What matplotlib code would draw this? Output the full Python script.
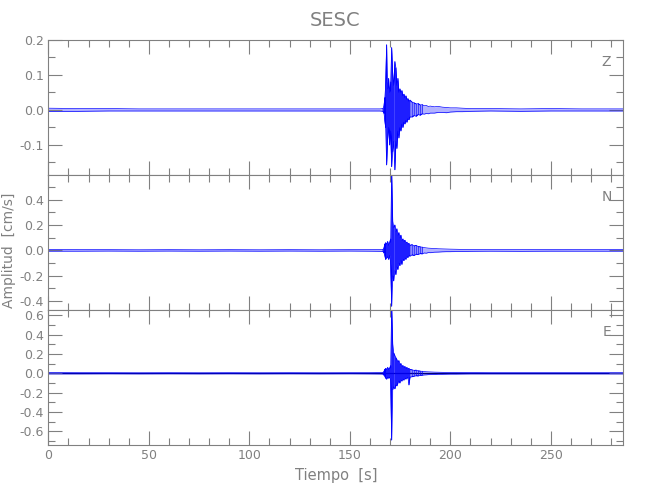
import matplotlib
matplotlib.use('Agg')
import matplotlib.pyplot as plt
from matplotlib.ticker import MultipleLocator, FormatStrFormatter
import numpy as np

t_samples = [0, 15, 30, 45, 60, 75, 90, 105, 120, 135, 150, 160, 165, 166.5,
             167.0, 167.4, 167.8, 168.3, 168.8, 169.3, 169.8, 170.3, 170.8, 171.3,
             171.8, 172.4, 172.9, 173.4, 173.9, 174.4, 174.9, 175.4, 175.9, 176.4,
             176.9, 177.4, 177.9, 178.4, 178.9, 179.4, 179.9,
             181, 182, 183, 184, 185, 186, 187, 188, 189, 190, 192, 194, 196, 198,
             200, 203, 206, 210,
             220, 235, 250, 265, 286]

# Z component, upper / lower extremes [cm/s]
z_hi = [0.005, 0.004, 0.004, 0.003, 0.003, 0.003, 0.003, 0.003, 0.003, 0.003, 0.003, 0.003, 0.003, 0.004,
        0.012, 0.035, 0.07, 0.186, 0.06, 0.09, 0.05, 0.08, 0.178, 0.10,
        0.07, 0.138, 0.12, 0.07, 0.09, 0.05, 0.06, 0.05, 0.055, 0.04,
        0.045, 0.035, 0.04, 0.03, 0.032, 0.025, 0.028,
        0.022, 0.02, 0.017, 0.018, 0.014, 0.015, 0.012, 0.013, 0.01, 0.011, 0.009, 0.01, 0.008, 0.007,
        0.006, 0.006, 0.005, 0.004,
        0.004, 0.003, 0.004, 0.003, 0.003]
z_lo = [-0.004, -0.004, -0.003, -0.003, -0.003, -0.003, -0.003, -0.003, -0.003, -0.003, -0.003, -0.003, -0.003, -0.004,
        -0.010, -0.03, -0.05, -0.157, -0.08, -0.05, -0.10, -0.06, -0.162, -0.12,
        -0.09, -0.171, -0.09, -0.11, -0.06, -0.08, -0.05, -0.06, -0.04, -0.05,
        -0.035, -0.04, -0.03, -0.035, -0.025, -0.028, -0.02,
        -0.02, -0.016, -0.018, -0.013, -0.015, -0.011, -0.012, -0.01, -0.011, -0.009, -0.009, -0.007, -0.007, -0.008,
        -0.006, -0.005, -0.005, -0.004,
        -0.003, -0.004, -0.003, -0.003, -0.003]

# N component
n_hi = [0.007, 0.006, 0.006, 0.005, 0.006, 0.005, 0.006, 0.005, 0.006, 0.005, 0.006, 0.006, 0.007, 0.008,
        0.02, 0.05, 0.06, 0.05, 0.07, 0.04, 0.06, 0.09, 0.62, 0.23,
        0.18, 0.20, 0.15, 0.17, 0.12, 0.14, 0.10, 0.12, 0.08, 0.09,
        0.07, 0.08, 0.06, 0.065, 0.05, 0.055, 0.04,
        0.045, 0.035, 0.04, 0.03, 0.028, 0.025, 0.022, 0.02, 0.018, 0.017, 0.015, 0.013, 0.012, 0.011,
        0.01, 0.009, 0.008, 0.007,
        0.006, 0.006, 0.007, 0.006, 0.006]
n_lo = [-0.006, -0.006, -0.005, -0.006, -0.005, -0.006, -0.005, -0.006, -0.005, -0.006, -0.005, -0.006, -0.007, -0.008,
        -0.02, -0.04, -0.07, -0.06, -0.05, -0.07, -0.04, -0.10, -0.44, -0.20,
        -0.24, -0.16, -0.19, -0.13, -0.15, -0.10, -0.12, -0.08, -0.11, -0.07,
        -0.08, -0.06, -0.07, -0.05, -0.055, -0.04, -0.045,
        -0.035, -0.04, -0.03, -0.032, -0.025, -0.027, -0.02, -0.022, -0.017, -0.018, -0.014, -0.013, -0.011, -0.01,
        -0.01, -0.008, -0.008, -0.007,
        -0.006, -0.007, -0.006, -0.006, -0.006]

# E component
e_hi = [0.007, 0.006, 0.006, 0.005, 0.006, 0.005, 0.006, 0.005, 0.006, 0.005, 0.006, 0.006, 0.007, 0.008,
        0.02, 0.04, 0.05, 0.04, 0.06, 0.04, 0.05, 0.08, 0.70, 0.30,
        0.21, 0.18, 0.16, 0.14, 0.12, 0.13, 0.09, 0.10, 0.07, 0.08,
        0.06, 0.07, 0.05, 0.06, 0.045, 0.05, 0.04,
        0.035, 0.03, 0.032, 0.025, 0.022, 0.02, 0.018, 0.016, 0.015, 0.014, 0.012, 0.011, 0.01, 0.009,
        0.009, 0.008, 0.007, 0.007,
        0.006, 0.006, 0.006, 0.006, 0.006]
e_lo = [-0.006, -0.006, -0.005, -0.006, -0.005, -0.006, -0.005, -0.006, -0.005, -0.006, -0.005, -0.006, -0.007, -0.008,
        -0.02, -0.03, -0.05, -0.06, -0.04, -0.05, -0.04, -0.07, -0.69, -0.17,
        -0.14, -0.16, -0.12, -0.13, -0.10, -0.08, -0.10, -0.07, -0.08, -0.06,
        -0.07, -0.05, -0.06, -0.045, -0.05, -0.12, -0.04,
        -0.035, -0.03, -0.025, -0.027, -0.02, -0.02, -0.017, -0.016, -0.014, -0.013, -0.012, -0.01, -0.01, -0.009,
        -0.008, -0.008, -0.007, -0.006,
        -0.006, -0.006, -0.006, -0.006, -0.006]

components = ['Z', 'N', 'E']
y_limits = [(-0.186, 0.2), (-0.47, 0.595), (-0.742, 0.655)]
y_major = [0.1, 0.2, 0.2]
y_minor = [0.05, 0.1, 0.1]

plt.rcParams['font.family'] = ['Liberation Sans Narrow', 'DejaVu Sans']
gray = '#808080'
blue = '#0000ff'


def trace_xy(t, hi, lo):
    # vertical stroke between the read extremes at each finely sampled time,
    # direction alternating so the strokes join along the envelope
    t = np.asarray(t, float)
    hi = np.asarray(hi, float)
    lo = np.asarray(lo, float)
    keep = (t >= 166.5) & (t <= 186)
    t, hi, lo = t[keep], hi[keep], lo[keep]
    x = np.repeat(t, 2)
    y = np.empty(len(x))
    even = np.arange(len(t)) % 2 == 0
    y[0::2] = np.where(even, hi, lo)
    y[1::2] = np.where(even, lo, hi)
    return x, y


def main():
    fig = plt.figure(figsize=(6.5, 5), dpi=100)
    left, width = 0.0743, 0.8846
    bottoms = [0.65, 0.38, 0.11]
    series = [(z_hi, z_lo), (n_hi, n_lo), (e_hi, e_lo)]

    for i, comp in enumerate(components):
        ax = fig.add_axes([left, bottoms[i], width, 0.27])
        hi, lo = series[i]
        if comp == 'E':
            ax.axhline(0, color='#000033', lw=0.9, zorder=1)
        ax.fill_between(t_samples, lo, hi, color=blue, alpha=0.3, lw=0, zorder=1.5)
        ax.plot(t_samples, hi, color=blue, lw=0.5, zorder=2)
        ax.plot(t_samples, lo, color=blue, lw=0.5, zorder=2)
        x, y = trace_xy(t_samples, hi, lo)
        ax.plot(x, y, color=blue, lw=0.6, zorder=2)

        ax.set_xlim(0, 286)
        ax.set_ylim(*y_limits[i])
        ax.xaxis.set_major_locator(MultipleLocator(50))
        ax.xaxis.set_minor_locator(MultipleLocator(10))
        ax.yaxis.set_major_locator(MultipleLocator(y_major[i]))
        ax.yaxis.set_minor_locator(MultipleLocator(y_minor[i]))
        ax.yaxis.set_major_formatter(FormatStrFormatter('%.1f'))
        ax.tick_params(which='both', direction='in', top=True, right=True,
                       colors=gray, labelcolor=gray, labelsize=9, width=0.8, pad=3)
        ax.tick_params(which='major', length=10)
        ax.tick_params(which='minor', length=5)
        for s in ax.spines.values():
            s.set_color(gray)
            s.set_linewidth(0.8)
        if i < 2:
            ax.tick_params(labelbottom=False)
        else:
            ax.set_xlabel('Tiempo  [s]', color=gray, fontsize=10.5, labelpad=4)
        ax.text(0.971, 0.84, comp, transform=ax.transAxes, ha='center', va='center',
                color=gray, fontsize=10)

    fig.text(0.516, 0.958, 'SESC', ha='center', va='center', color=gray, fontsize=14)
    fig.text(0.014, 0.5, 'Amplitud  [cm/s]', rotation=90, ha='center', va='center',
             color=gray, fontsize=10)
    fig.savefig('out.png', dpi=100)


if __name__ == '__main__':
    main()
